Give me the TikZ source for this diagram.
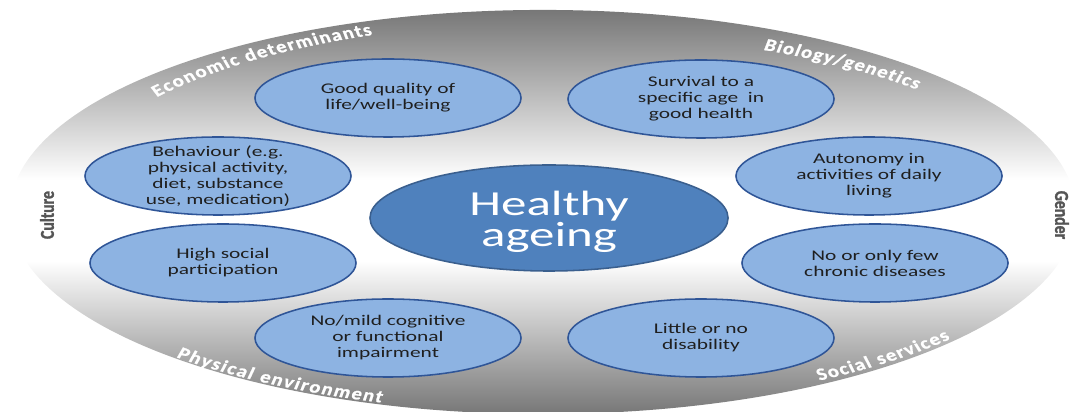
\documentclass[tikz,border=0pt]{standalone}
\usepackage{fontspec}
\setmainfont{Carlito}
\usepackage{tikz}
\usetikzlibrary{shapes.geometric,decorations.text}
\newfontfamily\bubblefont[FakeStretch=1.45]{Carlito}
\newfontfamily\rimfwd[FakeStretch=1.15,FakeSlant=0.2,FakeBold=1]{Carlito}
\newfontfamily\rimback[FakeStretch=1.15,FakeSlant=-0.2,FakeBold=1]{Carlito}
\newfontfamily\sidefont[FakeStretch=0.8,FakeBold=1.5]{Carlito}
\definecolor{colorfill}{HTML}{8DB3E2}
\definecolor{colorline}{HTML}{2F5597}
\definecolor{colorcore}{HTML}{4F81BD}
\definecolor{colorcoreline}{HTML}{3A5F8E}
\definecolor{colorrim}{HTML}{777777}
\definecolor{colorside}{HTML}{555555}
\definecolor{colortext}{HTML}{1F1F1F}
\pgfdeclareverticalshading{rimshade}{100bp}{color(0bp)=(colorrim); color(25bp)=(colorrim);
  color(44bp)=(white); color(54bp)=(white); color(75bp)=(colorrim); color(100bp)=(colorrim)}
\tikzset{
  outcome/.style={ellipse, draw=colorline, fill=colorfill, line width=1.1pt,
    minimum width=6.65cm, minimum height=1.95cm, inner sep=0pt},
  outcometext/.style={align=center, inner sep=0pt, text=colortext,
    font=\bubblefont\fontsize{10.5}{11.4}\selectfont},
  core/.style={ellipse, draw=colorcoreline, fill=colorcore, line width=1.1pt,
    minimum width=8.95cm, minimum height=2.65cm, inner sep=0pt},
  coretext/.style={align=center, inner sep=0pt, text=white,
    font=\bubblefont\fontsize{25}{20}\selectfont},
  side/.style={text=colorside, inner sep=0pt, font=\sidefont\bfseries\fontsize{14}{16}\selectfont},
  rimarc/.style={shift={(543,200)}, decorate,
    decoration={text along path, text align=fit to path, text={#1}}}
}
\newcommand\rimup{\color{white}\rimback\bfseries\fontsize{12.5}{14}\selectfont}
\newcommand\rimdown{\color{white}\rimfwd\bfseries\fontsize{12.5}{14}\selectfont}

\begin{document}
\begin{tikzpicture}[x=0.025cm, y=0.025cm]
\useasboundingbox (0,0) rectangle (1075,412);

\shade[shading=rimshade] (543,200) ellipse [x radius=13.325cm, y radius=5.05cm];

\path[rimarc={|\rimup|Economic determinants}]
  (142.6:12.15cm and 4.725cm) arc[start angle=142.6, end angle=110.5, x radius=12.15cm, y radius=4.725cm];
\path[rimarc={|\rimdown|Biology/genetics}]
  (64.5:12.775cm and 4.49cm) arc[start angle=64.5, end angle=43, x radius=12.775cm, y radius=4.49cm];
\path[rimarc={|\rimdown|Physical environment}]
  (226.5:13.325cm and 5cm) arc[start angle=226.5, end angle=252.3, x radius=13.325cm, y radius=5cm];
\path[rimarc={|\rimup|Social services}]
  (301.3:13.3cm and 4.93cm) arc[start angle=301.3, end angle=320, x radius=13.3cm, y radius=4.93cm];

\node[side, rotate=90] (culture) at (47,197) {Culture};
\node[side, rotate=-90] (gender) at (1062,197) {Gender};

\node[outcome] (life) at (388,314) {};
\node[outcometext] (lifetext) at (life) {Good quality of\\life/well-being};

\node[outcome] (survival) at (701,313) {};
\node[outcometext] (survivaltext) at (survival) {Survival to a\\specific age~ in\\good health};

\node[outcome] (behaviour) at (218,236) {};
\node[outcometext] (behaviourtext) at (behaviour)
{Behaviour (e.g.\\physical activity,\\diet, substance\\use, medication)};

\node[outcome] (autonomy) at (869,236) {};
\node[outcometext] (autonomytext) at (autonomy) {Autonomy in\\activities of daily\\living};

\node[outcome] (social) at (223,149) {};
\node[outcometext] (socialtext) at (social) {High social\\participation};

\node[outcome] (chronic) at (875,149) {};
\node[outcometext] (chronictext) at (chronic) {No or only few\\chronic diseases};

\node[outcome] (cognitive) at (388,74) {};
\node[outcometext] (cognitivetext) at (cognitive) {No/mild cognitive\\or functional\\impairment};

\node[outcome] (disability) at (701,74) {};
\node[outcometext] (disabilitytext) at (disability) {Little or no\\disability};

\node[core] (healthy) at (549,194) {};
\node[coretext] (healthytext) at ([yshift=-0.1cm]healthy.center) {Healthy\\ageing};
\end{tikzpicture}
\end{document}
